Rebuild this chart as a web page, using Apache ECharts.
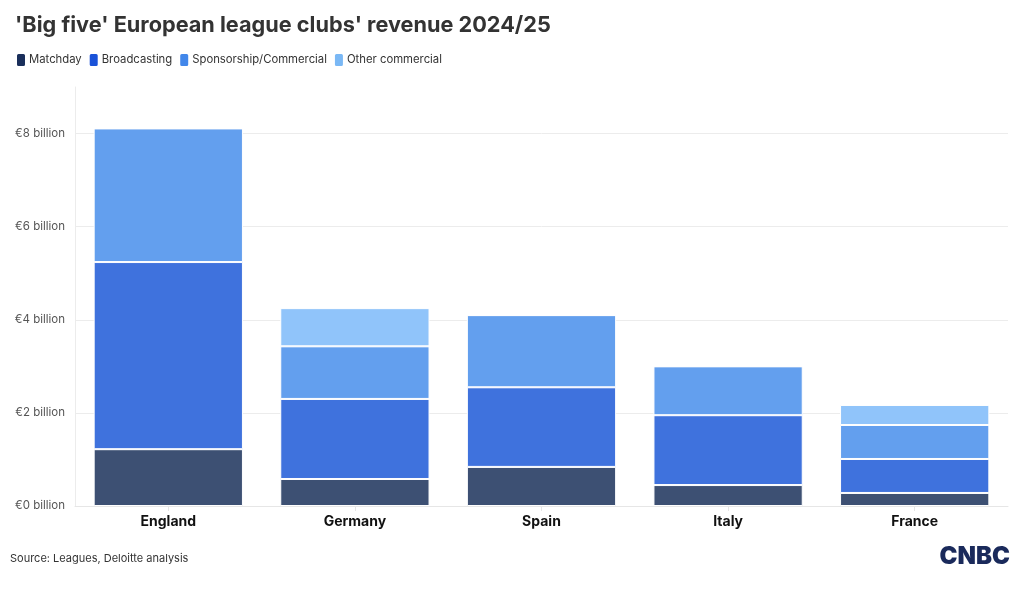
<!DOCTYPE html>
<html>
<head>
<meta charset="utf-8">
<script src="https://cdn.jsdelivr.net/npm/echarts@6/dist/echarts.min.js"></script>
<style>html,body{margin:0;padding:0;background:#fff}#c{width:1020px;height:607px}</style>
</head>
<body>
<div id="c"></div>
<script>
const categories = ['England', 'Germany', 'Spain', 'Italy', 'France'];
const matchday = [1.22, 0.58, 0.84, 0.45, 0.28];
const broadcasting = [4.02, 1.72, 1.71, 1.50, 0.73];
const sponsorship = [2.87, 1.13, 1.55, 1.05, 0.73];
const otherCommercial = [0, 0.82, 0, 0, 0.43];
const seriesNames = ['Matchday', 'Broadcasting', 'Sponsorship/Commercial', 'Other commercial'];
const seriesColors = ['#3d5073', '#3f72dd', '#639fee', '#90c4fa'];
const yTicks = [0, 2, 4, 6, 8];

const FONT = 'Inter, "Noto Sans", sans-serif';
const chart = echarts.init(document.getElementById('c'), null, {renderer: 'canvas'});
const data = [matchday, broadcasting, sponsorship, otherCommercial];
chart.setOption({
  animation: false,
  textStyle: {fontFamily: FONT},
  title: {
    text: "'Big five' European league clubs' revenue 2024/25",
    left: 10, top: 9,
    textStyle: {fontSize: 21.7, fontWeight: 'bold', color: '#333', fontFamily: FONT}
  },
  legend: {
    left: 10, top: 47,
    itemWidth: 10, itemHeight: 14, itemGap: 6,
    icon: 'roundRect',
    textStyle: {fontSize: 11.3, color: '#333', padding: [0, 0, 0, -2]},
    data: seriesNames.map((n, i) => ({name: n, itemStyle: {color: ['#1a2f5b', '#1a52d8', '#4287ea', '#7ab8f5'][i]}}))
  },
  grid: {left: 75, right: 12, top: 87, bottom: 101, containLabel: false},
  xAxis: {
    type: 'category',
    data: categories,
    axisLine: {show: true, lineStyle: {color: '#e6e6e6'}},
    axisTick: {show: true, alignWithLabel: true, length: 5, lineStyle: {color: '#e6e6e6'}},
    axisLabel: {fontSize: 14, fontWeight: 'bold', color: '#111', margin: 9}
  },
  yAxis: {
    type: 'value',
    min: 0, max: 9, interval: 2,
    axisLine: {show: true, lineStyle: {color: '#ececec'}},
    axisTick: {show: false},
    axisLabel: {
      fontSize: 11.5, color: '#555', margin: 10,
      formatter: v => yTicks.indexOf(v) >= 0 ? '€' + v + ' billion' : ''
    },
    splitLine: {show: true, lineStyle: {color: ['#ececec', '#ececec', '#ececec', '#ececec', '#ececec', 'rgba(0,0,0,0)']}}
  },
  series: seriesNames.map((n, i) => ({
    name: n,
    type: 'bar',
    stack: 'rev',
    barWidth: '80%',
    data: data[i],
    itemStyle: {color: seriesColors[i], borderColor: '#fff', borderWidth: 1}
  })),
  graphic: [
    {type: 'text', left: 10, top: 553, style: {text: 'Source: Leagues, Deloitte analysis', fontSize: 11, fill: '#333', fontFamily: FONT}},
    {type: 'text', right: 10, top: 545, style: {text: 'CNBC', fontSize: 24, fontWeight: 900, fill: '#1a2a5b', fontFamily: FONT}}
  ]
});
</script>
</body>
</html>
